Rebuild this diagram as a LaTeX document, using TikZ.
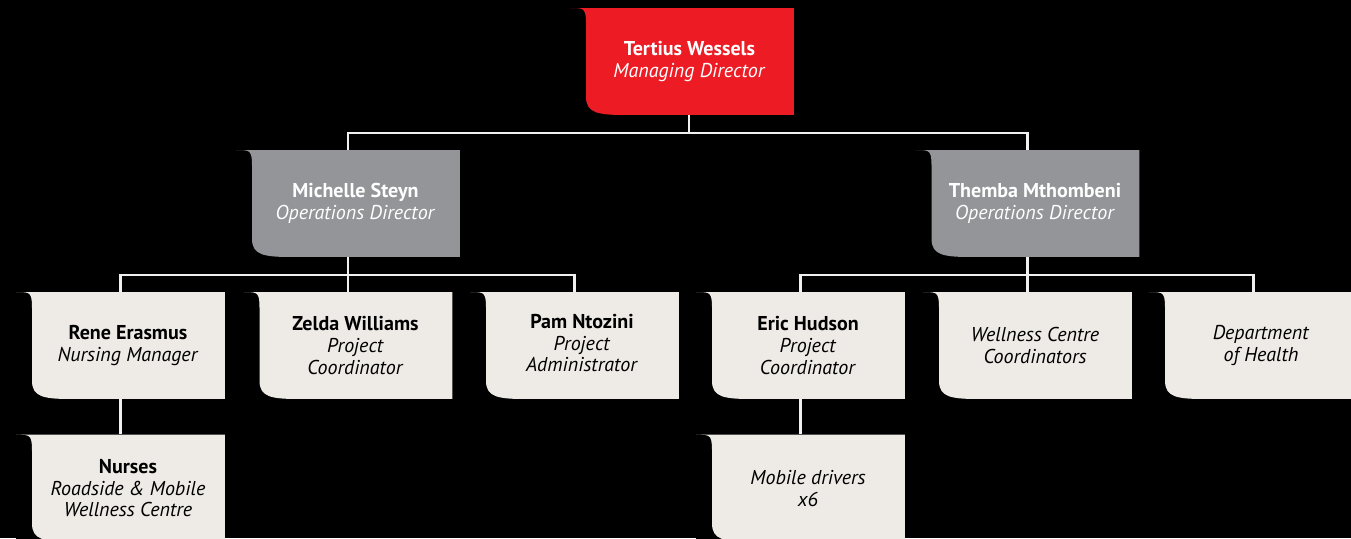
\documentclass[tikz,border=0pt]{standalone}
\usepackage{fontspec}
\setmainfont{PT Sans}
\usepackage{xcolor}
\usetikzlibrary{positioning}

\definecolor{chiefred}{HTML}{ED1C24}
\definecolor{headgray}{HTML}{939598}
\definecolor{staffbeige}{HTML}{EEEAE6}

\begin{document}
\begin{tikzpicture}[
    x=0.02cm, y=0.02cm,
    tab/.style={rectangle, inner sep=0pt, fill=black, minimum height=2.14cm,
        path picture={
            \coordinate (nw) at (path picture bounding box.north west);
            \coordinate (sw) at (path picture bounding box.south west);
            \fill[#1] (nw) .. controls ([shift={(16,0)}]nw) .. ([shift={(16,-22)}]nw)
                -- ([shift={(16,18)}]sw) .. controls ([shift={(16,2)}]sw) and ([shift={(28,0)}]sw) .. ([shift={(55,0)}]sw)
                -- (path picture bounding box.south east) -- (path picture bounding box.north east) -- cycle;
        }},
    boss/.style={tab=chiefred, minimum width=4.48cm},
    head/.style={tab=headgray, minimum width=4.48cm},
    staff/.style={tab=staffbeige, minimum width=4.18cm},
    whitetext/.style={xshift=0.15cm, align=center, text=white, font=\fontsize{11.4pt}{12.4pt}\selectfont},
    blacktext/.style={xshift=0.15cm, align=center, text=black, font=\fontsize{11.4pt}{12.4pt}\selectfont},
    link/.style={draw=white!94!black, line width=1.2pt}
]

\useasboundingbox (0,0) rectangle (1351,538);
\fill[black] (0,0) rectangle (1351,538);

\node[boss, label={[whitetext]center:{\textbf{Tertius Wessels}\\\textit{Managing Director}}}] (md) at (682, 476.5) {};

\node[head, label={[whitetext]center:{\textbf{Michelle Steyn}\\\textit{Operations Director}}}] (steyn) at (348, 334.5) {};
\node[head, label={[whitetext]center:{\textbf{Themba Mthombeni}\\\textit{Operations Director}}}] (mthombeni) at (1027.5, 334.5) {};

\node[staff, label={[blacktext]center:{\textbf{Rene Erasmus}\\\textit{Nursing Manager}}}] (erasmus) at (120.5, 192.5) {};
\node[staff, label={[blacktext]center:{\textbf{Zelda Williams}\\\textit{Project}\\\textit{Coordinator}}}] (williams) at (348, 192.5) {};
\node[staff, label={[blacktext, yshift=0.05cm]center:{\textbf{Pam Ntozini}\\\textit{Project}\\\textit{Administrator}}}] (ntozini) at (574.5, 192.5) {};
\node[staff, label={[blacktext]center:{\textbf{Eric Hudson}\\\textit{Project}\\\textit{Coordinator}}}] (hudson) at (800.5, 192.5) {};
\node[staff, label={[blacktext]center:{\textit{Wellness Centre}\\\textit{Coordinators}}}] (wellness) at (1027.5, 192.5) {};
\node[staff, label={[blacktext]center:{\textit{Department}\\\textit{of Health}}}] (health) at (1253.5, 192.5) {};

\node[staff, below=0.7cm of erasmus, label={[blacktext]center:{\textbf{Nurses}\\\textit{Roadside \& Mobile}\\\textit{Wellness Centre}}}] (nurses) {};
\node[staff, below=0.7cm of hudson, label={[blacktext]center:{\textit{Mobile drivers}\\\textit{x6}}}] (drivers) {};

\draw[link] ([xshift=0.14cm]md.south) -- ++(0,-17.5) -| (steyn.north);
\draw[link] ([xshift=0.14cm]md.south) -- ++(0,-17.5) -| (mthombeni.north);

\draw[link] (steyn.south) -- ++(0,-17.5) -| (erasmus.north);
\draw[link] (steyn.south) -- ++(0,-17.5) -| (williams.north);
\draw[link] (steyn.south) -- ++(0,-17.5) -| (ntozini.north);

\draw[link] (mthombeni.south) -- ++(0,-17.5) -| (hudson.north);
\draw[link] (mthombeni.south) -- ++(0,-17.5) -| (wellness.north);
\draw[link] (mthombeni.south) -- ++(0,-17.5) -| (health.north);

\draw[link] (erasmus.south) -- (nurses.north);
\draw[link] (hudson.south) -- (drivers.north);

\end{tikzpicture}
\end{document}
